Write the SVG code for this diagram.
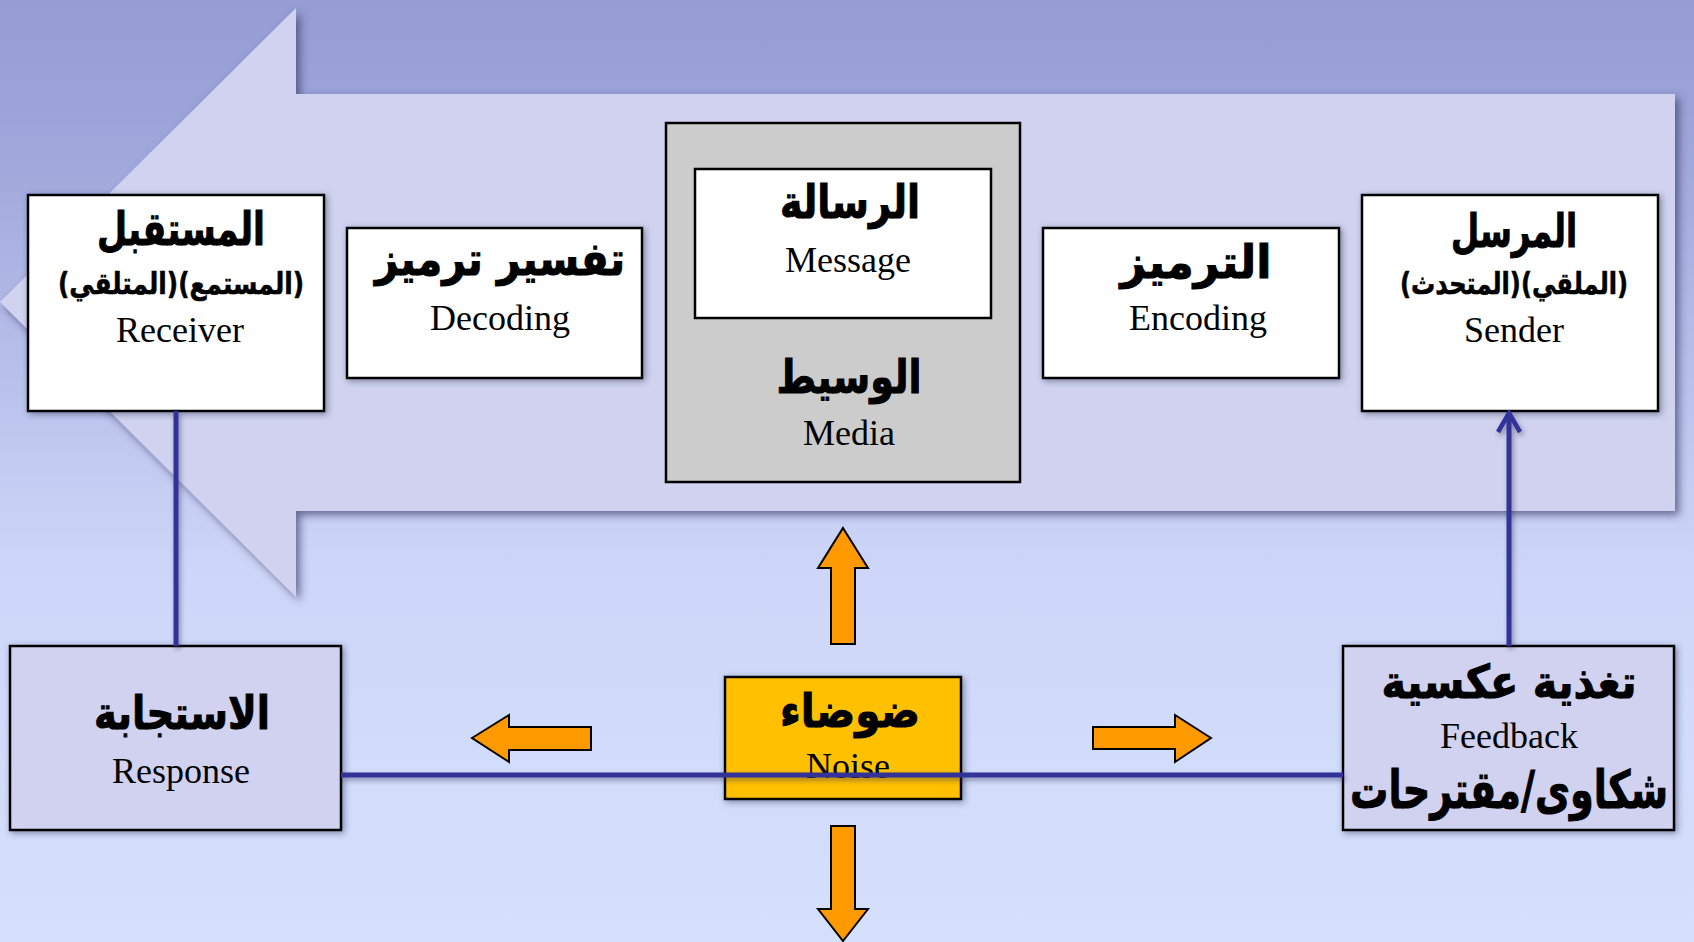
<svg xmlns="http://www.w3.org/2000/svg" width="1694" height="942" viewBox="0 0 1694 942">
<defs>
<linearGradient id="bg" x1="0" y1="0" x2="0" y2="1">
<stop offset="0" stop-color="#969dd2"/>
<stop offset="0.12" stop-color="#9ba3d8"/>
<stop offset="0.6" stop-color="#cdd6f8"/>
<stop offset="1" stop-color="#d5e0fd"/>
</linearGradient>
<filter id="bigshadow" x="-5%" y="-5%" width="115%" height="115%">
<feDropShadow dx="4" dy="4" stdDeviation="4" flood-color="#3a3d6b" flood-opacity="0.7"/>
</filter>
<filter id="boxshadow" x="-10%" y="-10%" width="125%" height="125%">
<feDropShadow dx="2" dy="2" stdDeviation="3" flood-color="#2a2d50" flood-opacity="0.5"/>
</filter>
<filter id="lineshadow" x="-5%" y="-50%" width="110%" height="300%">
<feDropShadow dx="2" dy="3" stdDeviation="2.5" flood-color="#2a2d50" flood-opacity="0.45"/>
</filter>
<marker id="open" viewBox="0 0 26 26" refX="23" refY="13" markerWidth="26" markerHeight="26" markerUnits="userSpaceOnUse" orient="auto">
<polyline points="4,2 23,13 4,24" fill="none" stroke="#333399" stroke-width="4.5"/>
</marker>
<style>
.box{stroke:#000;stroke-width:2.5}
.white{fill:#fff}
.lav{fill:#d0d2ef}
.ar{font-family:"DejaVu Sans",sans-serif;font-weight:bold;text-anchor:middle;fill:#000;direction:rtl;stroke:#000;stroke-width:1}
.t{font-size:46px}
.p{font-size:30px;stroke-width:0.6}
.en{font-family:"Liberation Serif",serif;font-size:36px;text-anchor:middle;fill:#000}
.orange{fill:#ff9900;stroke:#000;stroke-width:2}
.conn{stroke:#333399;stroke-width:5;fill:none}
</style>
</defs>
<rect width="1694" height="942" fill="url(#bg)"/>
<g id="big-arrow">
<polygon points="0,302 296,8 296,94 1675,94 1675,511 296,511 296,597" fill="#d0d2ef" filter="url(#bigshadow)"/>
</g>
<g id="receiver">
<rect class="box white" x="28" y="195" width="296" height="216" filter="url(#boxshadow)"/>
<text class="ar t" x="181" y="245" textLength="168" lengthAdjust="spacingAndGlyphs">المستقبل</text>
<text class="ar p" x="181" y="294" textLength="246" lengthAdjust="spacingAndGlyphs">(المستمع)(المتلقي)</text>
<text class="en" x="180" y="342">Receiver</text>
</g>
<g id="decoding">
<rect class="box white" x="347" y="228" width="295" height="150" filter="url(#boxshadow)"/>
<text class="ar t" x="500" y="275" textLength="250" lengthAdjust="spacingAndGlyphs">تفسير ترميز</text>
<text class="en" x="500" y="330">Decoding</text>
</g>
<g id="media">
<rect class="box" x="666" y="123" width="354" height="359" fill="#cccccc"/>
<text class="ar t" x="849" y="393" textLength="145" lengthAdjust="spacingAndGlyphs">الوسيط</text>
<text class="en" x="849" y="445">Media</text>
</g>
<g id="message">
<rect class="box white" x="695" y="169" width="296" height="149"/>
<text class="ar t" x="850" y="218" textLength="140" lengthAdjust="spacingAndGlyphs">الرسالة</text>
<text class="en" x="848" y="272">Message</text>
</g>
<g id="encoding">
<rect class="box white" x="1043" y="228" width="296" height="150" filter="url(#boxshadow)"/>
<text class="ar t" x="1196" y="278" textLength="151" lengthAdjust="spacingAndGlyphs">الترميز</text>
<text class="en" x="1198" y="330">Encoding</text>
</g>
<g id="sender">
<rect class="box white" x="1362" y="195" width="296" height="216" filter="url(#boxshadow)"/>
<text class="ar t" x="1514" y="247" textLength="126" lengthAdjust="spacingAndGlyphs">المرسل</text>
<text class="ar p" x="1514" y="294" textLength="228" lengthAdjust="spacingAndGlyphs">(الملقي)(المتحدث)</text>
<text class="en" x="1514" y="342">Sender</text>
</g>
<g id="response">
<rect class="box lav" x="10" y="646" width="331" height="184" filter="url(#boxshadow)"/>
<text class="ar t" x="182" y="729" textLength="176" lengthAdjust="spacingAndGlyphs">الاستجابة</text>
<text class="en" x="181" y="783">Response</text>
</g>
<g id="noise">
<rect class="box" x="725" y="677" width="236" height="122" fill="#ffc000" filter="url(#boxshadow)"/>
<text class="ar t" x="850" y="727" textLength="140" lengthAdjust="spacingAndGlyphs">ضوضاء</text>
<text class="en" x="848" y="778">Noise</text>
</g>
<g id="feedback">
<rect class="box lav" x="1343" y="646" width="331" height="184" filter="url(#boxshadow)"/>
<text class="ar t" x="1509" y="698" textLength="255" lengthAdjust="spacingAndGlyphs">تغذية عكسية</text>
<text class="en" x="1509" y="748">Feedback</text>
<text class="ar" x="1509" y="808" font-size="52" textLength="318" lengthAdjust="spacingAndGlyphs">شكاوى/مقترحات</text>
</g>
<g id="noise-arrows">
<polygon class="orange" points="843,528 868,568 855,568 855,644 831,644 831,568 818,568"/>
<polygon class="orange" points="843,941 868,909 855,909 855,826 831,826 831,909 818,909"/>
<polygon class="orange" points="472,738 509,715 509,727 591,727 591,750 509,750 509,762"/>
<polygon class="orange" points="1211,738 1175,715 1175,727 1093,727 1093,749 1175,749 1175,762"/>
</g>
<g id="connectors" filter="url(#lineshadow)">
<line class="conn" x1="176" y1="411" x2="176" y2="646"/>
<line class="conn" x1="341" y1="775" x2="1343" y2="775"/>
<line class="conn" x1="1509" y1="646" x2="1509" y2="413" marker-end="url(#open)"/>
</g>
</svg>
